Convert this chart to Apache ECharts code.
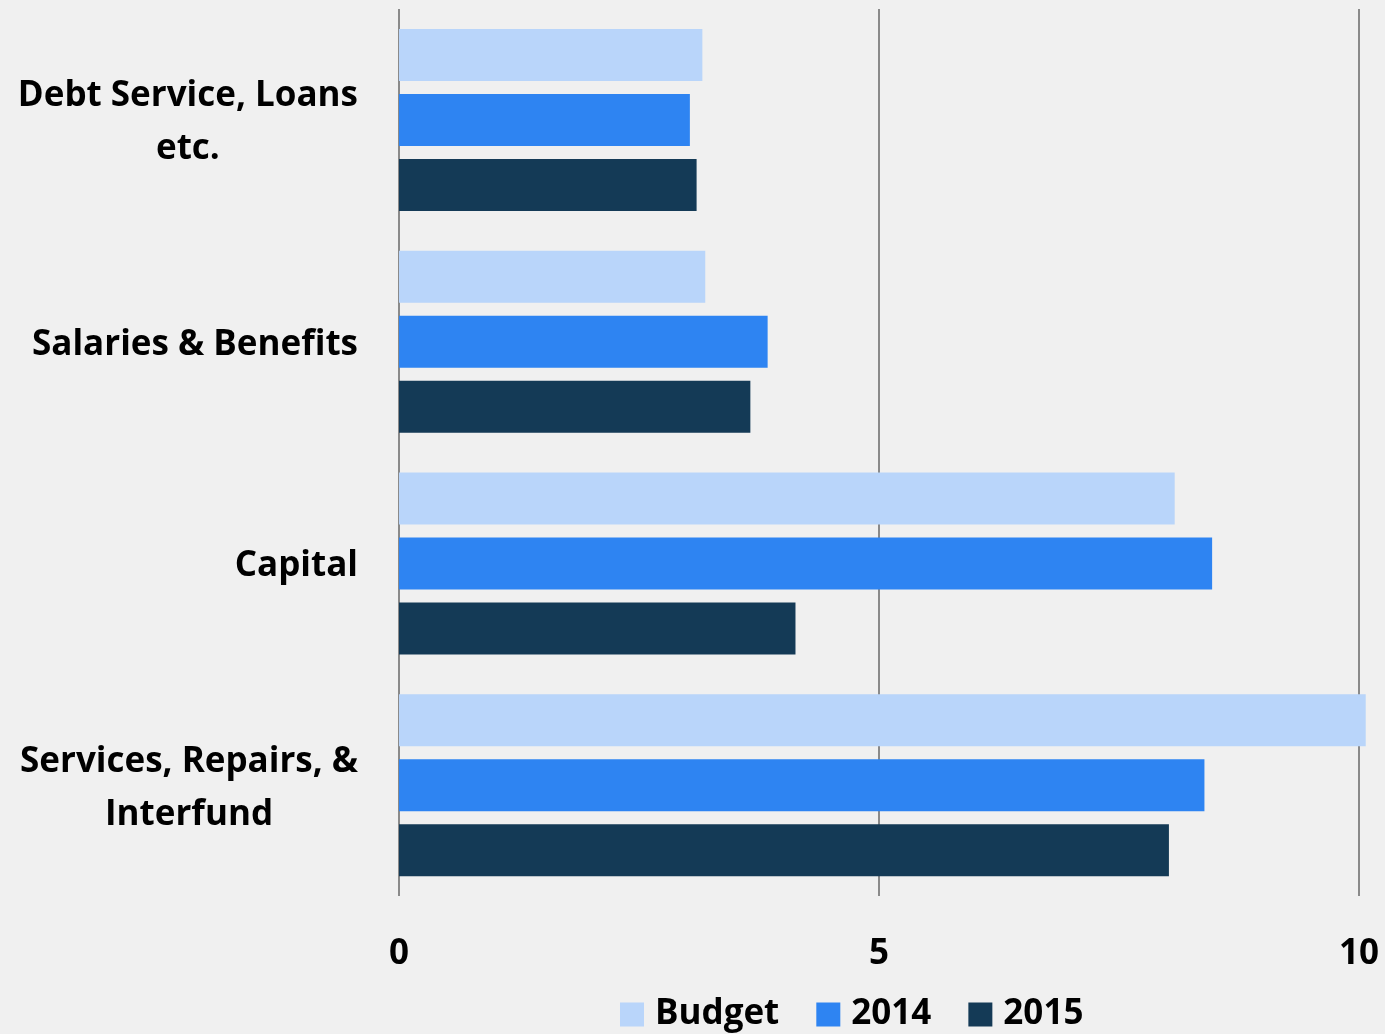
<!DOCTYPE html>
<html>
<head>
<meta charset="utf-8">
<script src="https://cdn.jsdelivr.net/npm/echarts@6/dist/echarts.min.js"></script>
<style>
html,body{margin:0;padding:0;background:#f0f0f0;}
#chart{width:1385px;height:1034px;}
</style>
</head>
<body>
<div id="chart"></div>
<script>
var categories = ["Debt Service, Loans\netc.", "Salaries & Benefits", "Capital", "Services, Repairs, &\nInterfund"];
var seriesNames = ["Budget", "2014", "2015"];
var budgetValues = [3.16, 3.19, 8.08, 10.07];
var values2014 = [3.03, 3.84, 8.47, 8.39];
var values2015 = [3.10, 3.66, 4.13, 8.02];
var xTicks = [0, 5, 10];

var colors = ["#b9d5fa", "#2e84f2", "#143a56"];
var FONT = "Open Sans";
var FS = 35;

var chart = echarts.init(document.getElementById('chart'), null, {renderer: 'canvas'});
function mkSeries(name, data, color) {
  return {
    name: name, type: 'bar', data: data, clip: false,
    barWidth: 52, barGap: '25%',
    itemStyle: {color: color},
    emphasis: {disabled: true}
  };
}
chart.setOption({
  backgroundColor: '#f0f0f0',
  animation: false,
  color: colors,
  grid: {left: 399, right: 26, top: 9, bottom: 138, containLabel: false},
  xAxis: {
    type: 'value', min: xTicks[0], max: xTicks[xTicks.length - 1], interval: xTicks[1] - xTicks[0],
    axisLine: {show: false}, axisTick: {show: false},
    splitLine: {show: true, lineStyle: {color: '#8a8a8a', width: 2}},
    axisLabel: {margin: 41, fontFamily: FONT, fontWeight: 'bold', fontSize: FS, color: '#000'}
  },
  yAxis: {
    type: 'category', data: categories, inverse: true,
    axisLine: {show: false}, axisTick: {show: false},
    axisLabel: {
      margin: 41, align: 'right', padding: [6, 0, 0, 0],
      formatter: function (v) {
        return v.split('\n').map(function (s) { return '{c|' + s + '}'; }).join('\n');
      },
      rich: {c: {align: 'center', fontFamily: FONT, fontWeight: 'bold', fontSize: FS, lineHeight: 53, color: '#000'}}
    }
  },
  legend: {
    data: seriesNames, left: 615, top: 992, itemWidth: 24, itemHeight: 24, itemGap: 37,
    icon: 'rect',
    textStyle: {fontFamily: FONT, fontWeight: 'bold', fontSize: FS, color: '#000', padding: [0, 0, 0, 6]}
  },
  series: [
    mkSeries(seriesNames[0], budgetValues, colors[0]),
    mkSeries(seriesNames[1], values2014, colors[1]),
    mkSeries(seriesNames[2], values2015, colors[2])
  ]
});
</script>
</body>
</html>
